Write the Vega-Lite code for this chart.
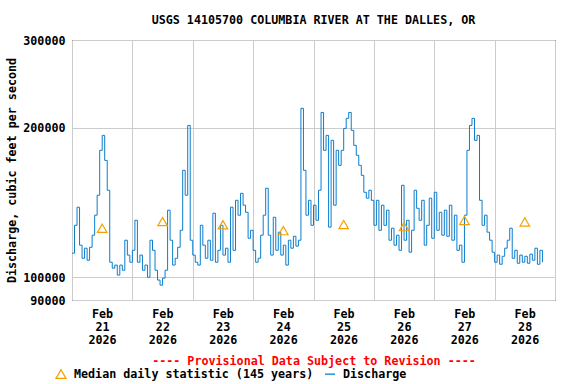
{
  "$schema": "https://vega.github.io/schema/vega-lite/v6.json",
  "width": 483,
  "height": 260,
  "autosize": "none",
  "padding": {"left": 72, "top": 40, "right": 21, "bottom": 84},
  "background": "white",
  "title": {"text": "USGS 14105700 COLUMBIA RIVER AT THE DALLES, OR", "fontSize": 11.7, "font": "DejaVu Sans Mono", "fontWeight": "bold", "anchor": "middle", "offset": 8, "color": "black"},
  "datasets": {
    "discharge": [
      {"t": "2026-02-21T00:00", "v": 111800}, {"t": "2026-02-21T01:00", "v": 127200}, {"t": "2026-02-21T02:00", "v": 138300}, {"t": "2026-02-21T03:00", "v": 116000},
      {"t": "2026-02-21T04:00", "v": 109200}, {"t": "2026-02-21T05:00", "v": 114400}, {"t": "2026-02-21T06:00", "v": 108200}, {"t": "2026-02-21T07:00", "v": 114900},
      {"t": "2026-02-21T08:00", "v": 121500}, {"t": "2026-02-21T09:00", "v": 133300}, {"t": "2026-02-21T10:00", "v": 146200}, {"t": "2026-02-21T11:00", "v": 180000},
      {"t": "2026-02-21T12:00", "v": 192900}, {"t": "2026-02-21T13:00", "v": 171800}, {"t": "2026-02-21T14:00", "v": 149600}, {"t": "2026-02-21T15:00", "v": 107200},
      {"t": "2026-02-21T16:00", "v": 104300}, {"t": "2026-02-21T17:00", "v": 105800}, {"t": "2026-02-21T18:00", "v": 101000}, {"t": "2026-02-21T19:00", "v": 105800},
      {"t": "2026-02-21T20:00", "v": 103300}, {"t": "2026-02-21T21:00", "v": 118700}, {"t": "2026-02-21T22:00", "v": 110800}, {"t": "2026-02-21T23:00", "v": 107200},
      {"t": "2026-02-22T00:00", "v": 113300}, {"t": "2026-02-22T01:00", "v": 130200}, {"t": "2026-02-22T02:00", "v": 107200}, {"t": "2026-02-22T03:00", "v": 110800},
      {"t": "2026-02-22T04:00", "v": 103300}, {"t": "2026-02-22T05:00", "v": 105800}, {"t": "2026-02-22T06:00", "v": 100000}, {"t": "2026-02-22T07:00", "v": 118700},
      {"t": "2026-02-22T08:00", "v": 113300}, {"t": "2026-02-22T09:00", "v": 103300}, {"t": "2026-02-22T10:00", "v": 98700}, {"t": "2026-02-22T11:00", "v": 96400},
      {"t": "2026-02-22T12:00", "v": 99600}, {"t": "2026-02-22T13:00", "v": 103300}, {"t": "2026-02-22T14:00", "v": 136400}, {"t": "2026-02-22T15:00", "v": 118700},
      {"t": "2026-02-22T16:00", "v": 105800}, {"t": "2026-02-22T17:00", "v": 109200}, {"t": "2026-02-22T18:00", "v": 114900}, {"t": "2026-02-22T19:00", "v": 124300},
      {"t": "2026-02-22T20:00", "v": 164100}, {"t": "2026-02-22T21:00", "v": 146200}, {"t": "2026-02-22T22:00", "v": 202000}, {"t": "2026-02-22T23:00", "v": 118700},
      {"t": "2026-02-23T00:00", "v": 110800}, {"t": "2026-02-23T01:00", "v": 107200}, {"t": "2026-02-23T02:00", "v": 105800}, {"t": "2026-02-23T03:00", "v": 127200},
      {"t": "2026-02-23T04:00", "v": 116000}, {"t": "2026-02-23T05:00", "v": 109200}, {"t": "2026-02-23T06:00", "v": 118700}, {"t": "2026-02-23T07:00", "v": 108200},
      {"t": "2026-02-23T08:00", "v": 134500}, {"t": "2026-02-23T09:00", "v": 107200}, {"t": "2026-02-23T10:00", "v": 113300}, {"t": "2026-02-23T11:00", "v": 127200},
      {"t": "2026-02-23T12:00", "v": 110800}, {"t": "2026-02-23T13:00", "v": 114400}, {"t": "2026-02-23T14:00", "v": 107200}, {"t": "2026-02-23T15:00", "v": 138300},
      {"t": "2026-02-23T16:00", "v": 113300}, {"t": "2026-02-23T17:00", "v": 142800}, {"t": "2026-02-23T18:00", "v": 133300}, {"t": "2026-02-23T19:00", "v": 147500},
      {"t": "2026-02-23T20:00", "v": 139600}, {"t": "2026-02-23T21:00", "v": 135100}, {"t": "2026-02-23T22:00", "v": 119800}, {"t": "2026-02-23T23:00", "v": 124300},
      {"t": "2026-02-24T00:00", "v": 113300}, {"t": "2026-02-24T01:00", "v": 107200}, {"t": "2026-02-24T02:00", "v": 109200}, {"t": "2026-02-24T03:00", "v": 121500},
      {"t": "2026-02-24T04:00", "v": 133300}, {"t": "2026-02-24T05:00", "v": 151000}, {"t": "2026-02-24T06:00", "v": 121500}, {"t": "2026-02-24T07:00", "v": 110800},
      {"t": "2026-02-24T08:00", "v": 132000}, {"t": "2026-02-24T09:00", "v": 113300}, {"t": "2026-02-24T10:00", "v": 123200}, {"t": "2026-02-24T11:00", "v": 110800},
      {"t": "2026-02-24T12:00", "v": 116000}, {"t": "2026-02-24T13:00", "v": 105800}, {"t": "2026-02-24T14:00", "v": 118700}, {"t": "2026-02-24T15:00", "v": 114400},
      {"t": "2026-02-24T16:00", "v": 120900}, {"t": "2026-02-24T17:00", "v": 115500}, {"t": "2026-02-24T18:00", "v": 118700}, {"t": "2026-02-24T19:00", "v": 218600},
      {"t": "2026-02-24T20:00", "v": 164100}, {"t": "2026-02-24T21:00", "v": 133300}, {"t": "2026-02-24T22:00", "v": 142800}, {"t": "2026-02-24T23:00", "v": 127200},
      {"t": "2026-02-25T00:00", "v": 139600}, {"t": "2026-02-25T01:00", "v": 130200}, {"t": "2026-02-25T02:00", "v": 149600}, {"t": "2026-02-25T03:00", "v": 214500},
      {"t": "2026-02-25T04:00", "v": 180000}, {"t": "2026-02-25T05:00", "v": 192900}, {"t": "2026-02-25T06:00", "v": 126100}, {"t": "2026-02-25T07:00", "v": 188500},
      {"t": "2026-02-25T08:00", "v": 139600}, {"t": "2026-02-25T09:00", "v": 180000}, {"t": "2026-02-25T10:00", "v": 167900}, {"t": "2026-02-25T11:00", "v": 180000},
      {"t": "2026-02-25T12:00", "v": 199200}, {"t": "2026-02-25T13:00", "v": 208700}, {"t": "2026-02-25T14:00", "v": 214500}, {"t": "2026-02-25T15:00", "v": 197400},
      {"t": "2026-02-25T16:00", "v": 184200}, {"t": "2026-02-25T17:00", "v": 175900}, {"t": "2026-02-25T18:00", "v": 167900}, {"t": "2026-02-25T19:00", "v": 160300},
      {"t": "2026-02-25T20:00", "v": 148200}, {"t": "2026-02-25T21:00", "v": 144200}, {"t": "2026-02-25T22:00", "v": 149600}, {"t": "2026-02-25T23:00", "v": 142800},
      {"t": "2026-02-26T00:00", "v": 127200}, {"t": "2026-02-26T01:00", "v": 142800}, {"t": "2026-02-26T02:00", "v": 124300}, {"t": "2026-02-26T03:00", "v": 139600},
      {"t": "2026-02-26T04:00", "v": 127200}, {"t": "2026-02-26T05:00", "v": 136400}, {"t": "2026-02-26T06:00", "v": 118700}, {"t": "2026-02-26T07:00", "v": 125500},
      {"t": "2026-02-26T08:00", "v": 116000}, {"t": "2026-02-26T09:00", "v": 121500}, {"t": "2026-02-26T10:00", "v": 113300}, {"t": "2026-02-26T11:00", "v": 153100},
      {"t": "2026-02-26T12:00", "v": 118700}, {"t": "2026-02-26T13:00", "v": 130200}, {"t": "2026-02-26T14:00", "v": 112300}, {"t": "2026-02-26T15:00", "v": 124300},
      {"t": "2026-02-26T16:00", "v": 149600}, {"t": "2026-02-26T17:00", "v": 137600}, {"t": "2026-02-26T18:00", "v": 130200}, {"t": "2026-02-26T19:00", "v": 142800},
      {"t": "2026-02-26T20:00", "v": 116000}, {"t": "2026-02-26T21:00", "v": 127200}, {"t": "2026-02-26T22:00", "v": 144200}, {"t": "2026-02-26T23:00", "v": 119800},
      {"t": "2026-02-27T00:00", "v": 148200}, {"t": "2026-02-27T01:00", "v": 124300}, {"t": "2026-02-27T02:00", "v": 135100}, {"t": "2026-02-27T03:00", "v": 121500},
      {"t": "2026-02-27T04:00", "v": 136400}, {"t": "2026-02-27T05:00", "v": 120900}, {"t": "2026-02-27T06:00", "v": 139600}, {"t": "2026-02-27T07:00", "v": 118700},
      {"t": "2026-02-27T08:00", "v": 133300}, {"t": "2026-02-27T09:00", "v": 113300}, {"t": "2026-02-27T10:00", "v": 116000}, {"t": "2026-02-27T11:00", "v": 107200},
      {"t": "2026-02-27T12:00", "v": 133300}, {"t": "2026-02-27T13:00", "v": 180000}, {"t": "2026-02-27T14:00", "v": 202000}, {"t": "2026-02-27T15:00", "v": 208700},
      {"t": "2026-02-27T16:00", "v": 188500}, {"t": "2026-02-27T17:00", "v": 192900}, {"t": "2026-02-27T18:00", "v": 142800}, {"t": "2026-02-27T19:00", "v": 127200},
      {"t": "2026-02-27T20:00", "v": 133300}, {"t": "2026-02-27T21:00", "v": 123200}, {"t": "2026-02-27T22:00", "v": 118700}, {"t": "2026-02-27T23:00", "v": 112300},
      {"t": "2026-02-28T00:00", "v": 107200}, {"t": "2026-02-28T01:00", "v": 110800}, {"t": "2026-02-28T02:00", "v": 106200}, {"t": "2026-02-28T03:00", "v": 110200},
      {"t": "2026-02-28T04:00", "v": 114400}, {"t": "2026-02-28T05:00", "v": 118700}, {"t": "2026-02-28T06:00", "v": 125500}, {"t": "2026-02-28T07:00", "v": 109200},
      {"t": "2026-02-28T08:00", "v": 113300}, {"t": "2026-02-28T09:00", "v": 106700}, {"t": "2026-02-28T10:00", "v": 110800}, {"t": "2026-02-28T11:00", "v": 107200},
      {"t": "2026-02-28T12:00", "v": 110200}, {"t": "2026-02-28T13:00", "v": 106700}, {"t": "2026-02-28T14:00", "v": 111300}, {"t": "2026-02-28T15:00", "v": 108200},
      {"t": "2026-02-28T16:00", "v": 114400}, {"t": "2026-02-28T17:00", "v": 106200}, {"t": "2026-02-28T18:00", "v": 113300}, {"t": "2026-02-28T19:00", "v": 107200}
    ],
    "median": [
      {"t": "2026-02-21T12:00", "v": 125500},
      {"t": "2026-02-22T12:00", "v": 129400},
      {"t": "2026-02-23T12:00", "v": 127500},
      {"t": "2026-02-24T12:00", "v": 124100},
      {"t": "2026-02-25T12:00", "v": 127600},
      {"t": "2026-02-26T12:00", "v": 126400},
      {"t": "2026-02-27T12:00", "v": 130100},
      {"t": "2026-02-28T12:00", "v": 129200}
    ]
  },
  "layer": [
    {
      "data": {"name": "discharge"},
      "mark": {"type": "line", "strokeWidth": 1, "clip": true, "interpolate": "step-after"},
      "encoding": {
        "x": {
          "field": "t", "type": "temporal",
          "scale": {"domain": [{"year": 2026, "month": "feb", "date": 21}, {"year": 2026, "month": "mar", "date": 1}]},
          "axis": {
            "title": "---- Provisional Data Subject to Revision ----",
            "titleColor": "red", "titlePadding": 10,
            "tickCount": {"interval": "day", "step": 1},
            "ticks": false, "tickSize": 0, "domain": false, "grid": true,
            "labelOffset": 30,
            "labelExpr": "month(datum.value) == 1 ? [timeFormat(datum.value, '%b'), timeFormat(datum.value, '%d'), timeFormat(datum.value, '%Y')] : ''",
            "labelLineHeight": 13, "labelPadding": 8,
            "labelFlush": false, "labelOverlap": false, "labelBound": false
          }
        },
        "y": {
          "field": "v", "type": "quantitative",
          "scale": {"type": "log", "domain": [90000, 300000], "nice": false},
          "axis": {
            "title": "Discharge, cubic feet per second",
            "values": [90000, 100000, 200000, 300000],
            "format": "d",
            "ticks": false, "tickSize": 0, "domain": false, "grid": true,
            "labelPadding": 7, "titlePadding": 5,
            "labelFlush": false, "labelOverlap": false, "labelBound": false
          }
        },
        "color": {
          "datum": "Discharge", "type": "nominal",
          "scale": {"domain": ["Median daily statistic (145 years)", "Discharge"], "range": ["#f5a000", "#0b7dcc"]},
          "legend": {
            "orient": "none", "legendX": -17, "legendY": 328, "direction": "horizontal", "title": null,
            "labelFont": "DejaVu Sans Mono", "labelFontWeight": "bold", "labelFontSize": 11.7, "labelColor": "black", "labelLimit": 0,
            "symbolSize": 100, "symbolStrokeWidth": 1.3, "labelOffset": 7, "columnPadding": 8,
            "encode": {"symbols": {"update": {"shape": {"signal": "datum.value === 'Discharge' ? 'stroke' : 'triangle-up'"}, "fill": {"value": "transparent"}}}}
          }
        }
      }
    },
    {
      "data": {"name": "median"},
      "mark": {"type": "point", "shape": "triangle-up", "filled": false, "size": 90, "strokeWidth": 1.2, "opacity": 1},
      "encoding": {
        "x": {"field": "t", "type": "temporal"},
        "y": {"field": "v", "type": "quantitative"},
        "color": {"datum": "Median daily statistic (145 years)", "type": "nominal"}
      }
    }
  ],
  "config": {
    "view": {"stroke": "black", "strokeWidth": 1},
    "font": "DejaVu Sans Mono",
    "axis": {
      "labelFont": "DejaVu Sans Mono", "labelFontWeight": "bold", "labelFontSize": 11.7, "labelColor": "black",
      "titleFont": "DejaVu Sans Mono", "titleFontWeight": "bold", "titleFontSize": 11.7, "titleColor": "black",
      "gridColor": "#cccccc", "gridOpacity": 1, "gridWidth": 1
    }
  }
}
